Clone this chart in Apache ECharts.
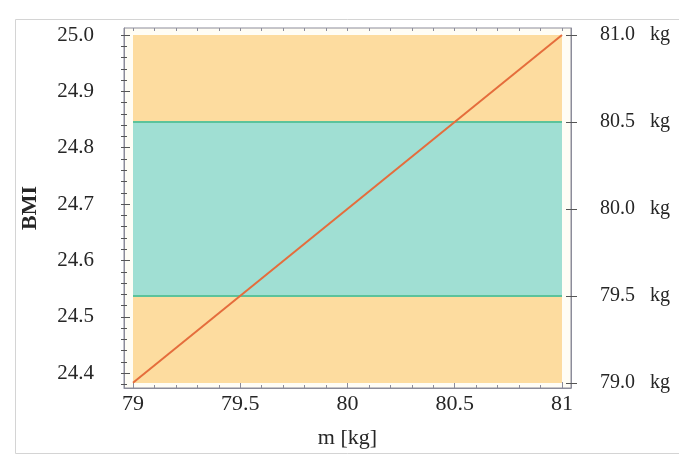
<!DOCTYPE html>
<html>
<head>
<meta charset="utf-8">
<script src="https://cdn.jsdelivr.net/npm/echarts@6/dist/echarts.min.js"></script>
<style>
html,body{margin:0;padding:0;background:#fff;}
#chart{width:679px;height:455px;}
</style>
</head>
<body>
<div id="chart"></div>
<script>
// ---- data ----
const massKg = [79, 81];            // x values of the line (kg)
const bmiValues = [24.383, 25.0];   // BMI at those masses
const massTicks = [79, 79.5, 80, 80.5, 81];
const bmiTicks = [24.4, 24.5, 24.6, 24.7, 24.8, 24.9, 25.0];
const kgTicks = [79.0, 79.5, 80.0, 80.5, 81.0];
const normalBandKg = [79.5, 80.5];  // teal band (right axis, kg)
const plotRangeKg = [79, 81];       // orange area (right axis, kg)
const plotRangeMass = [79, 81];

// axis extents (slight padding around the data, as in the reference frame)
const xMin = 78.958, xMax = 81.042;
const bmiMin = 24.3738, bmiMax = 25.0124;
const kgMin = 78.971, kgMax = 81.040;

const bmiMinor = [];
for (let v = 24.38; v <= 25.0001; v += 0.02) bmiMinor.push(+v.toFixed(2));
const massMinor = [];
for (let v = 79; v <= 81.0001; v += 0.1) massMinor.push(+v.toFixed(1));

const serif = 'Liberation Serif';
const txt = '#262626';
const frame = '#8c8c9a';

const chart = echarts.init(document.getElementById('chart'), null, {renderer: 'canvas'});

const xData = massKg.map((m, i) => [m, bmiValues[i]]);

chart.setOption({
  animation: false,
  backgroundColor: '#ffffff',
  graphic: [{
    type: 'rect', silent: true, z: -10,
    shape: {x: 15.5, y: 19.5, width: 700, height: 434},
    style: {fill: 'none', stroke: '#d4d4d4', lineWidth: 1}
  }],
  grid: {
    left: 124, right: 108, top: 28, bottom: 67,
    show: true, backgroundColor: '#fffdf5', borderColor: frame, borderWidth: 1
  },
  xAxis: [{
    type: 'value', position: 'bottom', min: xMin, max: xMax,
    name: 'm [kg]', nameLocation: 'middle', nameGap: 39,
    nameTextStyle: {fontFamily: serif, fontSize: 22, color: txt},
    axisLine: {show: true, lineStyle: {color: frame}},
    axisTick: {show: true, inside: true, length: 3, customValues: massMinor, lineStyle: {color: frame}},
    axisLabel: {customValues: massTicks, fontFamily: serif, fontSize: 22, color: txt, margin: 5,
      formatter: v => String(+v.toFixed(1))},
    splitLine: {show: false}
  }, {
    type: 'value', position: 'bottom', min: xMin, max: xMax,
    axisLine: {show: false},
    axisTick: {show: true, inside: true, length: 6, customValues: massTicks, lineStyle: {color: frame}},
    axisLabel: {show: false}, splitLine: {show: false}
  }, {
    type: 'value', position: 'top', min: xMin, max: xMax,
    axisLine: {show: false},
    axisTick: {show: true, inside: true, length: 3, customValues: massMinor, lineStyle: {color: frame}},
    axisLabel: {show: false}, splitLine: {show: false}
  }],
  yAxis: [{
    type: 'value', position: 'left', min: bmiMin, max: bmiMax,
    name: 'BMI', nameLocation: 'middle', nameGap: 83,
    nameTextStyle: {fontFamily: serif, fontSize: 22, fontWeight: 'bold', color: txt},
    axisLine: {show: true, lineStyle: {color: frame}},
    axisTick: {show: true, inside: false, length: 3, customValues: bmiMinor, lineStyle: {color: '#555'}},
    axisLabel: {customValues: bmiTicks, fontFamily: serif, fontSize: 21, color: txt, margin: 30,
      formatter: v => v.toFixed(1)},
    splitLine: {show: false}
  }, {
    type: 'value', position: 'right', min: kgMin, max: kgMax,
    axisLine: {show: true, lineStyle: {color: frame}},
    axisTick: {show: true, inside: false, length: 6, customValues: kgTicks, lineStyle: {color: '#555'}},
    axisLabel: {customValues: kgTicks, fontFamily: serif, fontSize: 20, color: txt, margin: 29,
      formatter: v => v.toFixed(1) + '   kg'},
    splitLine: {show: false}
  }, {
    type: 'value', position: 'left', min: bmiMin, max: bmiMax,
    axisLine: {show: false},
    axisTick: {show: true, inside: true, length: 3, customValues: bmiMinor, lineStyle: {color: '#555'}},
    axisLabel: {show: false}, splitLine: {show: false}
  }, {
    type: 'value', position: 'left', min: bmiMin, max: bmiMax,
    axisLine: {show: false},
    axisTick: {show: true, inside: true, length: 6, customValues: bmiTicks, lineStyle: {color: '#555'}},
    axisLabel: {show: false}, splitLine: {show: false}
  }, {
    type: 'value', position: 'right', min: kgMin, max: kgMax,
    axisLine: {show: false},
    axisTick: {show: true, inside: true, length: 5, customValues: kgTicks, lineStyle: {color: '#555'}},
    axisLabel: {show: false}, splitLine: {show: false}
  }],
  series: [{
    type: 'line', xAxisIndex: 0, yAxisIndex: 1, z: 1,
    data: [[plotRangeMass[0], plotRangeKg[0]], [plotRangeMass[1], plotRangeKg[1]]],
    symbol: 'none', lineStyle: {opacity: 0}, silent: true,
    markArea: {
      silent: true,
      data: [
        [{coord: [plotRangeMass[0], plotRangeKg[0]], itemStyle: {color: '#fddc9f'}},
         {coord: [plotRangeMass[1], plotRangeKg[1]]}],
        [{coord: [plotRangeMass[0], normalBandKg[0]], itemStyle: {color: '#a0dfd3'}},
         {coord: [plotRangeMass[1], normalBandKg[1]]}]
      ]
    },
    markLine: {
      silent: true, symbol: 'none', label: {show: false},
      lineStyle: {color: '#5cc39b', width: 2, type: 'solid'},
      data: normalBandKg.map(k => [{coord: [plotRangeMass[0], k]}, {coord: [plotRangeMass[1], k]}])
    }
  }, {
    type: 'line', xAxisIndex: 0, yAxisIndex: 0, z: 5,
    data: xData, symbol: 'none',
    lineStyle: {color: '#e56d3c', width: 2}
  }]
});
</script>
</body>
</html>
